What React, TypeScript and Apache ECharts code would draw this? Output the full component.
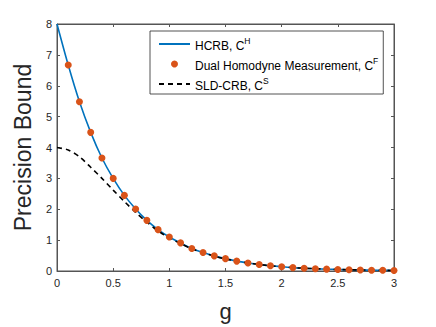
import React, { useEffect, useRef } from "react";
import * as echarts from "echarts";

const gValues = [0, 0.1, 0.2, 0.3, 0.4, 0.5, 0.6, 0.7, 0.8, 0.9, 1.0, 1.1, 1.2, 1.3, 1.4, 1.5, 1.6, 1.7, 1.8, 1.9, 2.0, 2.1, 2.2, 2.3, 2.4, 2.5, 2.6, 2.7, 2.8, 2.9, 3.0];
const hcrb = [8.0, 6.67, 5.48, 4.49, 3.66, 3.0, 2.45, 2.01, 1.64, 1.34, 1.1, 0.91, 0.73, 0.6, 0.49, 0.4, 0.32, 0.26, 0.21, 0.17, 0.14, 0.11, 0.09, 0.075, 0.06, 0.05, 0.04, 0.033, 0.027, 0.022, 0.018];
const dualG = [0.1, 0.2, 0.3, 0.4, 0.5, 0.6, 0.7, 0.8, 0.9, 1.0, 1.1, 1.2, 1.3, 1.4, 1.5, 1.6, 1.7, 1.8, 1.9, 2.0, 2.1, 2.2, 2.3, 2.4, 2.5, 2.6, 2.7, 2.8, 2.9, 3.0];
const dual = [6.67, 5.48, 4.49, 3.66, 3.0, 2.45, 2.01, 1.64, 1.34, 1.1, 0.91, 0.73, 0.6, 0.49, 0.4, 0.32, 0.26, 0.21, 0.17, 0.14, 0.11, 0.09, 0.075, 0.06, 0.05, 0.04, 0.033, 0.027, 0.022, 0.018];
const sld = [4.0, 3.92, 3.7, 3.36, 3.0, 2.62, 2.25, 1.9, 1.58, 1.3, 1.07, 0.89, 0.72, 0.59, 0.48, 0.39, 0.32, 0.26, 0.21, 0.17, 0.14, 0.11, 0.09, 0.075, 0.06, 0.05, 0.04, 0.033, 0.027, 0.022, 0.018];
const xTicks = { min: 0, max: 3, interval: 0.5 };
const yTicks = { min: 0, max: 8, interval: 1 };
const names = ["HCRB, C^H", "Dual Homodyne Measurement, C^F", "SLD-CRB, C^S"];
const legendRich: Record<string, string> = {
  [names[0]]: "{a|HCRB, C}{s|H}",
  [names[1]]: "{a|Dual Homodyne Measurement, C}{s|F}",
  [names[2]]: "{a|SLD-CRB, C}{s|S}",
};

const FONT = "'Liberation Sans', Arial, Helvetica, sans-serif";
const AX = "#262626";

export default function App() {
  const ref = useRef<HTMLDivElement>(null);
  useEffect(() => {
    if (!ref.current) return;
    const chart = echarts.init(ref.current, undefined, { renderer: "svg" });
    const axisCommon = {
      axisLine: { show: true, onZero: false, lineStyle: { color: "#555", width: 1 } },
      axisTick: { show: true, inside: true, length: 3, lineStyle: { color: "#555" } },
      splitLine: { show: false },
    };
    chart.setOption({
      animation: false,
      backgroundColor: "#fff",
      textStyle: { fontFamily: FONT },
      grid: { left: 57, right: 42, top: 24, bottom: 52, show: true, borderColor: "#555", borderWidth: 1, backgroundColor: "transparent" },
      legend: {
        orient: "vertical",
        left: 150,
        top: 31,
        padding: [5, 5, 2, 8],
        itemWidth: 31,
        itemHeight: 7,
        itemGap: 4,
        backgroundColor: "#fff",
        borderColor: AX,
        borderWidth: 0.8,
        borderRadius: 0,
        data: [
          { name: names[0], itemStyle: { opacity: 0 } },
          { name: names[1] },
          { name: names[2], itemStyle: { opacity: 0 } },
        ],
        formatter: (n: string) => legendRich[n],
        textStyle: {
          color: "#000",
          rich: {
            a: { fontSize: 12, fontFamily: FONT, color: "#000", lineHeight: 16, verticalAlign: "bottom" },
            s: { fontSize: 8.5, fontFamily: FONT, color: "#000", lineHeight: 10, verticalAlign: "top" },
          },
        },
      },
      xAxis: [
        {
          type: "value",
          ...xTicks,
          position: "bottom",
          name: "g",
          nameLocation: "middle",
          nameGap: 29,
          nameTextStyle: { fontSize: 22, color: AX, fontFamily: FONT },
          axisLabel: { fontSize: 11, color: AX, margin: 6, fontFamily: FONT },
          ...axisCommon,
        },
        {
          type: "value",
          ...xTicks,
          position: "top",
          axisLabel: { show: false },
          ...axisCommon,
        },
      ],
      yAxis: [
        {
          type: "value",
          ...yTicks,
          position: "left",
          name: "Precision Bound",
          nameLocation: "middle",
          nameGap: 22,
          nameTextStyle: { fontSize: 23, color: AX, fontFamily: FONT },
          axisLabel: { fontSize: 11, color: AX, margin: 5, fontFamily: FONT },
          ...axisCommon,
        },
        {
          type: "value",
          ...yTicks,
          position: "right",
          axisLabel: { show: false },
          ...axisCommon,
        },
      ],
      series: [
        {
          name: names[0],
          type: "line",
          data: gValues.map((g, i) => [g, hcrb[i]]),
          smooth: 0.3,
          symbol: "none",
          showSymbol: false,
          lineStyle: { color: "#0072BD", width: 1.6 },
          itemStyle: { color: "#0072BD" },
          z: 2,
        },
        {
          name: names[1],
          type: "scatter",
          data: dualG.map((g, i) => [g, dual[i]]),
          symbol: "circle",
          symbolSize: 7,
          itemStyle: { color: "#D95319", opacity: 1 },
          z: 4,
        },
        {
          name: names[2],
          type: "line",
          data: gValues.map((g, i) => [g, sld[i]]),
          smooth: 0.3,
          symbol: "none",
          showSymbol: false,
          lineStyle: { color: "#000", width: 1.6, type: [5, 4] },
          itemStyle: { color: "#000" },
          z: 3,
        },
      ],
    });
    return () => chart.dispose();
  }, []);
  return <div ref={ref} style={{ width: 436, height: 327, position: "absolute", left: 0, top: 0 }} />;
}
